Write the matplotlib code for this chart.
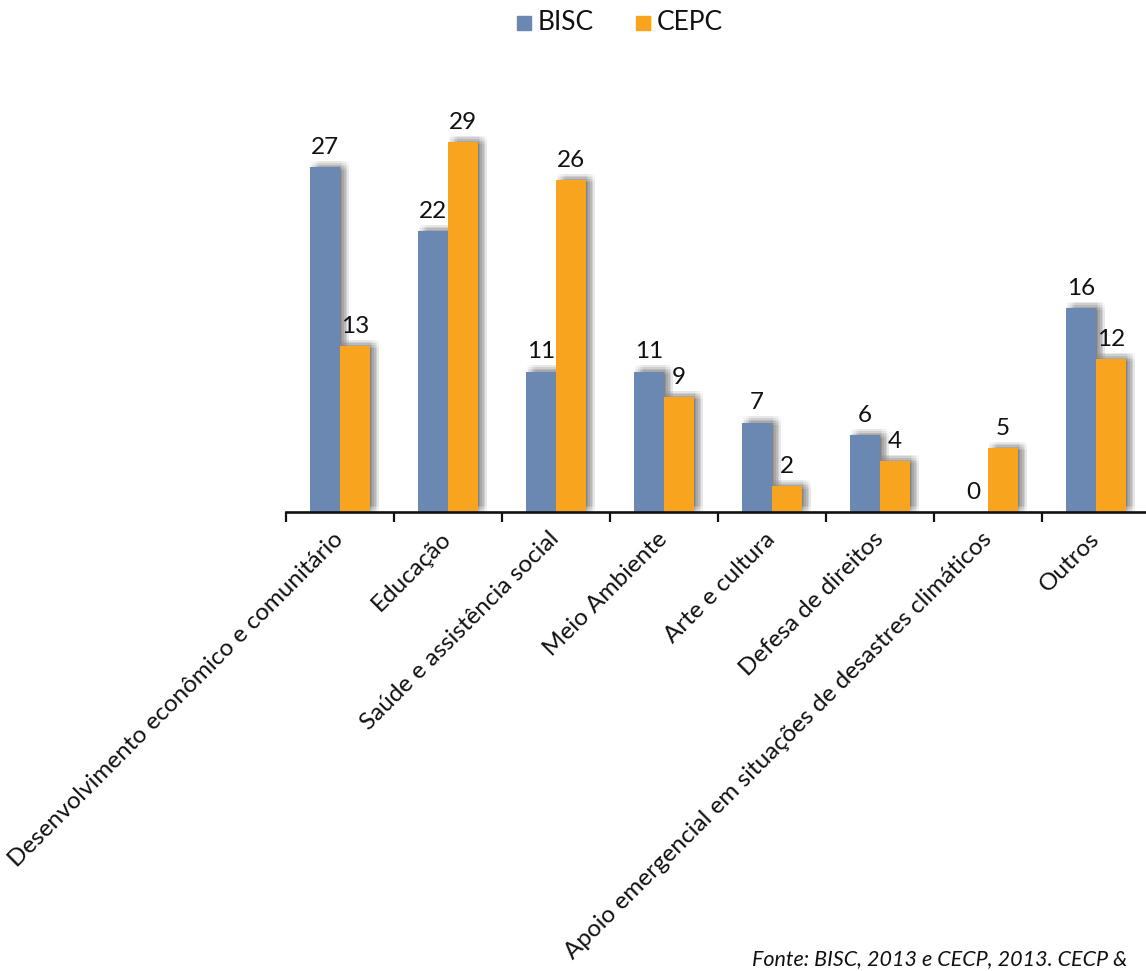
import matplotlib
matplotlib.use("Agg")
import matplotlib.pyplot as plt
import matplotlib.patheffects as pe
from matplotlib.patches import Rectangle
import numpy as np

plt.rcParams['font.family'] = ['Lato', 'DejaVu Sans']

categories = [
    "Desenvolvimento econômico e comunitário",
    "Educação",
    "Saúde e assistência social",
    "Meio Ambiente",
    "Arte e cultura",
    "Defesa de direitos",
    "Apoio emergencial em situações de desastres climáticos",
    "Outros",
]
bisc = [27, 22, 11, 11, 7, 6, 0, 16]
cepc = [13, 29, 26, 9, 2, 4, 5, 12]
series_names = ["BISC", "CEPC"]
source_text = "Fonte: BISC, 2013 e CECP, 2013. CECP &"

blue = "#6B88B2"
orange = "#F8A41F"

W, H = 1146, 971
fig = plt.figure(figsize=(W / 100, H / 100), dpi=100)
ax = fig.add_axes([286 / W, (H - 512) / H, 864 / W, 32 * 12.76 / H])

# soft drop shadow: many faint offset copies approximate a blur
shadow = []
for dx in np.linspace(0.5, 6.5, 6):
    for dy in np.linspace(-1.5, 4.5, 6):
        shadow.append(pe.SimplePatchShadow(offset=(dx, dy), shadow_rgbFace="#000000",
                                           alpha=0.016))
shadow.append(pe.Normal())

x = np.arange(len(categories))
w = 0.278
bars_b = ax.bar(x - w / 2, bisc, w, color=blue, zorder=2, linewidth=0)
bars_c = ax.bar(x + w / 2, cepc, w, color=orange, zorder=3, linewidth=0)
for b in list(bars_b) + list(bars_c):
    if b.get_height() > 0:
        b.set_path_effects(shadow)

for bars, vals in ((bars_b, bisc), (bars_c, cepc)):
    for b, v in zip(bars, vals):
        ax.annotate(str(v), (b.get_x() + b.get_width() / 2, v),
                    xytext=(0, 9.5), textcoords="offset points",
                    ha="center", va="baseline", fontsize=17.5, color="#111111",
                    zorder=5)

ax.set_xlim(-0.5, len(categories) - 0.5)
ax.set_ylim(0, 32)
for s in ("left", "right", "top"):
    ax.spines[s].set_visible(False)
ax.spines["bottom"].set_linewidth(1.9)
ax.spines["bottom"].set_color("#111111")
ax.spines["bottom"].set_zorder(6)
ax.set_yticks([])

ax.set_xticks(np.arange(len(categories) + 1) - 0.5, minor=True)
ax.tick_params(axis="x", which="minor", length=7.5, width=1.6, color="#111111")
ax.set_xticks(x)
ax.set_xticklabels(categories, rotation=45, ha="right", va="center",
                   rotation_mode="anchor", fontsize=17.5, color="#111111")
ax.tick_params(axis="x", which="major", length=0, pad=17)

# legend row at the top: colour square followed by series name
legend_y = 23
for name, color, sx in zip(series_names, (blue, orange), (517, 636)):
    fig.patches.append(Rectangle((sx / W, 1 - (legend_y + 7) / H), 14 / W, 14 / H,
                                 transform=fig.transFigure, color=color))
    fig.text((sx + 21) / W, 1 - legend_y / H, name, fontsize=19,
             ha="left", va="center", color="#111111")

fig.text(752 / W, 1.5 / H, source_text, fontsize=15.5, style="italic",
         ha="left", va="bottom", color="#111111")

fig.savefig("out.png", dpi=100)
